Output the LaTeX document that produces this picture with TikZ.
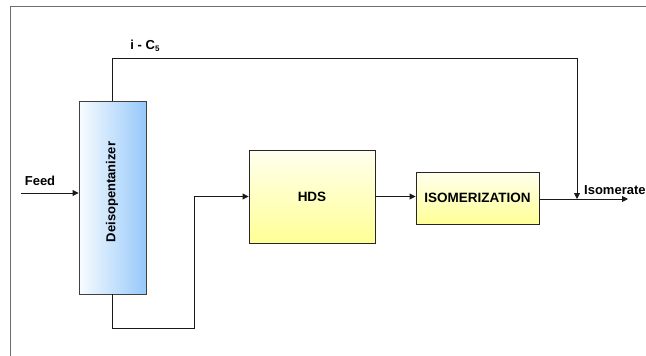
\documentclass[tikz,border=0pt]{standalone}
\usepackage{fontspec}
\setmainfont{Liberation Sans}
\usetikzlibrary{arrows.meta}
\definecolor{colblue}{RGB}{150,200,250}
\definecolor{midblue}{RGB}{205,228,252}
\definecolor{paleblue}{RGB}{248,252,255}
\definecolor{paleyel}{RGB}{255,255,238}
\definecolor{yel}{RGB}{255,255,150}
\definecolor{frameg}{RGB}{110,110,110}
\tikzset{
  lbl/.style={font=\fontsize{13}{15}\selectfont\bfseries, inner sep=0pt},
  unitbox/.style={draw=black!85, line width=0.9pt, inner sep=0pt,
    top color=paleyel, bottom color=yel, font=\fontsize{13.5}{15}\selectfont\bfseries},
  colbox/.style={draw=black!75, line width=0.9pt, inner sep=0pt,
    left color=paleblue, middle color=midblue, right color=colblue},
  pipe/.style={line width=0.9pt, draw=black!90},
  arr/.style={pipe, -{Triangle[length=6pt,width=6pt]}},
}
\begin{document}
\begin{tikzpicture}[x=1pt,y=-1pt]
\useasboundingbox (0,0) rectangle (646,356);
\draw[frameg, line width=1pt] (647,6) -- (10,6) -- (10,357);
% column
\node[colbox, minimum width=67pt, minimum height=193pt] (col) at (112.5,197.5) {};
\node[lbl, rotate=90] (coltxt) at (112,192) {Deisopentanizer};
% units
\node[unitbox, minimum width=126pt, minimum height=93pt] (hds) at (312,196.5) {HDS};
\node[unitbox, minimum width=123pt, minimum height=52pt] (iso) at (477.5,198) {ISOMERIZATION};
% coordinates
\coordinate (feedin) at (21,193);
\coordinate (topr) at (577,58);
\coordinate (junc) at (577,199);
\coordinate (out) at (628,199);
\coordinate (bot) at (194,328);
% labels
\node[lbl] (feedlbl) at (40,181) {Feed};
\node[lbl] (ic5) at (145,46) {i - C\raisebox{-0.35ex}{\fontsize{8}{9}\selectfont 5}};
\node[lbl, anchor=west] (isolbl) at (584,190) {Isomerate};
% connectors
\draw[arr] (feedin) -- (feedin -| col.west);
\draw[arr] (col.north) |- (topr) -- (junc);
\draw[arr] (col.south) |- (bot) |- (hds.west);
\draw[arr] (hds.east) -- (hds.east -| iso.west);
\draw[arr] (iso.east |- out) -- (out);
\end{tikzpicture}
\end{document}
